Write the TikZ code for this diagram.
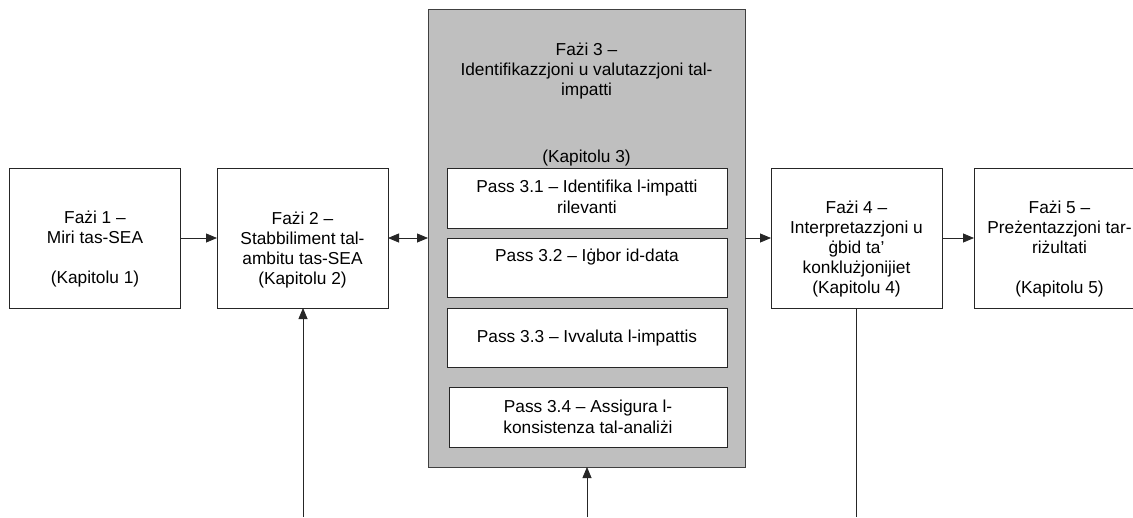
\documentclass[tikz,border=0pt]{standalone}
\usepackage{fontspec}
\setmainfont{Liberation Sans}
\usetikzlibrary{arrows.meta}
\tikzset{
  box/.style={draw=black!85, line width=0.8pt, fill=white, inner sep=0pt, outer sep=0pt},
  phasebox/.style={box, minimum width=171pt, minimum height=140pt},
  bigbox/.style={draw=black!75, line width=0.8pt, fill=black!25, inner sep=0pt, outer sep=0pt},
  passbox/.style={box, minimum height=60pt},
  txt/.style={align=center, inner sep=0pt, anchor=base, font=\fontsize{17.3pt}{20pt}\selectfont},
  ptxt/.style={txt, font=\fontsize{17.3pt}{21pt}\selectfont},
  arr/.style={draw=black!85, line width=0.8pt, -{Triangle[length=11pt,width=9pt]}},
  darr/.style={draw=black!85, line width=0.8pt, {Triangle[length=11pt,width=9pt]}-{Triangle[length=11pt,width=9pt]}},
  ln/.style={draw=black!85, line width=0.8pt}
}
\begin{document}
\begin{tikzpicture}[x=1pt,y=-1pt]
\clip (0,0) rectangle (1133,517);
\fill[white] (0,0) rectangle (1133,517);
% phase boxes
\node[phasebox] (b1) at (95,238) {};
\node[phasebox] (b2) at (302.5,238) {};
\node[bigbox, minimum width=317pt, minimum height=458pt] (b3) at (586.5,238) {};
\node[phasebox] (b4) at (856.5,238) {};
\node[phasebox] (b5) at (1059.5,238) {};
% pass boxes
\node[passbox, minimum width=280pt] (p1) at (587,198) {};
\node[passbox, minimum width=280pt, minimum height=59pt] (p2) at (587,267.5) {};
\node[passbox, minimum width=280pt, minimum height=59pt] (p3) at (587,337.5) {};
\node[passbox, minimum width=278pt] (p4) at (588,417) {};
% texts (anchor base = baseline of last line)
\node[txt] (t1) at (95,283) {Fażi 1 –\\Miri tas-SEA\\[20pt](Kapitolu 1)};
\node[txt] (t2) at (302.5,284) {Fażi 2 –\\Stabbiliment tal-\\ambitu tas-SEA\\(Kapitolu 2)};
\node[txt] (t3) at (586.5,95) {Fażi 3 –\\Identifikazzjoni u valutazzjoni tal-\\impatti};
\node[txt] (t3k) at (586.5,162) {(Kapitolu 3)};
\node[txt] (t4) at (856.5,293) {Fażi 4 –\\Interpretazzjoni u\\ġbid ta’\\konklużjonijiet\\(Kapitolu 4)};
\node[txt] (t5) at (1059.5,293) {Fażi 5 –\\Preżentazzjoni tar-\\riżultati\\[20pt](Kapitolu 5)};
\node[ptxt] (tp1) at (587,213) {Pass 3.1 – Identifika l-impatti\\rilevanti};
\node[ptxt] (tp2) at (587,261) {Pass 3.2 – Iġbor id-data};
\node[ptxt] (tp3) at (587,342) {Pass 3.3 – Ivvaluta l-impattis};
\node[ptxt] (tp4) at (588,433) {Pass 3.4 – Assigura l-\\konsistenza tal-analiżi};
% connectors
\draw[arr] (b1.east) -- (b2.west);
\draw[darr] (b2.east) -- (b2.east -| b3.west);
\draw[arr] (b3.east) -- (b4.west);
\draw[arr] (b4.east) -- (b5.west);
\coordinate (s2) at (303,517);
\coordinate (s3) at (587,517);
\coordinate (s4) at (856.5,517);
\draw[arr] (s2) -- (s2 |- b2.south);
\draw[arr] (s3) -- (s3 |- b3.south);
\draw[ln] (b4.south) -- (s4);
\end{tikzpicture}
\end{document}
